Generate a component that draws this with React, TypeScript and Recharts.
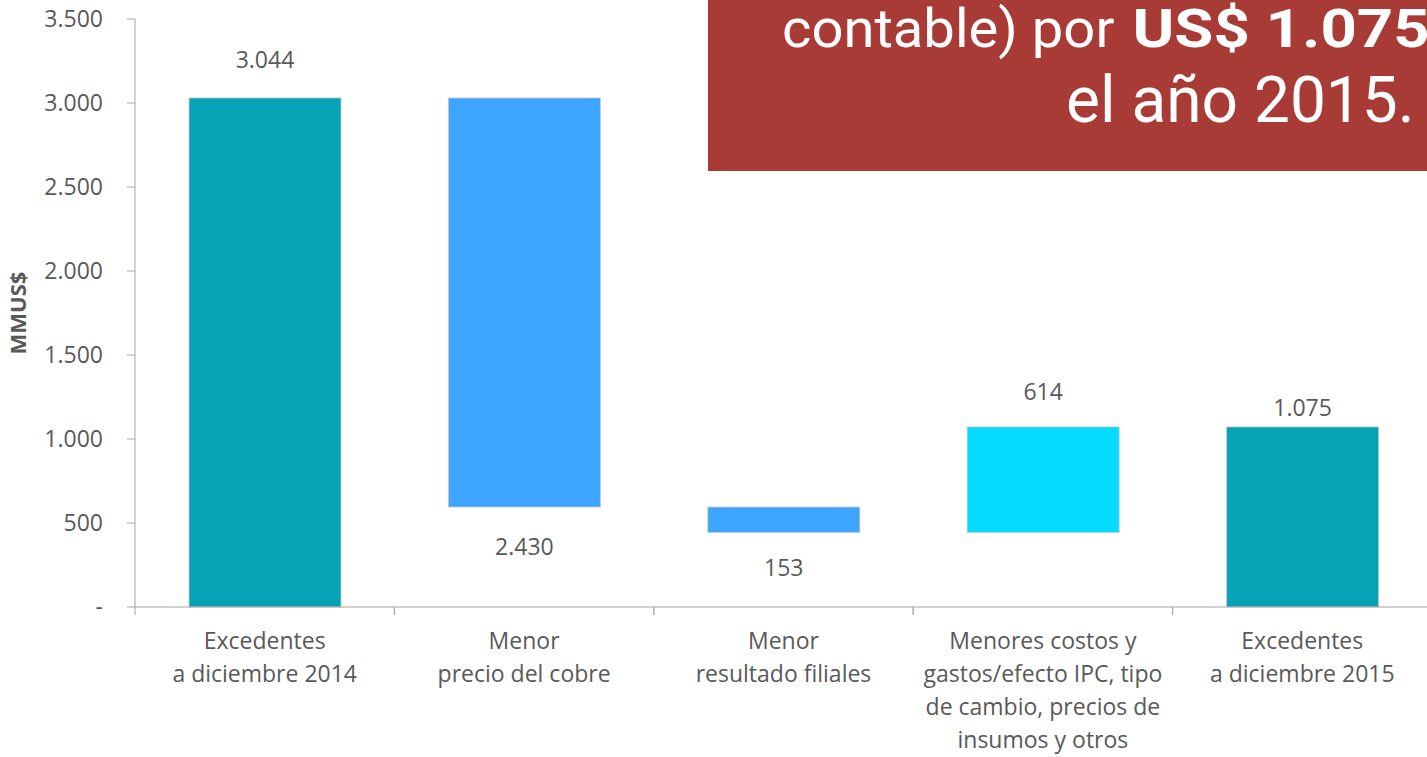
import React from 'react';
import { BarChart, Bar, XAxis, YAxis, Cell, LabelList } from 'recharts';

// categories and waterfall ranges
const categories = [
  'Excedentes\na diciembre 2014',
  'Menor\nprecio del cobre',
  'Menor\nresultado filiales',
  'Menores costos y\ngastos/efecto IPC, tipo\nde cambio, precios de\ninsumos y otros',
  'Excedentes\na diciembre 2015',
];
const barLow = [0, 595, 443, 443, 0];
const barHigh = [3030, 3030, 595, 1072, 1072];
const shownValues = [3044, -2430, -153, 614, 1075];
const barKinds = ['total', 'decrease', 'decrease', 'increase', 'total'];
const yTicks = [0, 500, 1000, 1500, 2000, 2500, 3000, 3500];

const data = categories.map((name, i) => ({
  name,
  range: [barLow[i], barHigh[i]],
  shown: shownValues[i],
  kind: barKinds[i],
}));

const COLORS: Record<string, string> = {
  total: '#05A3B5',
  decrease: '#3DA5FF',
  increase: '#05DAFF',
};

const FONT = '"Open Sans", sans-serif';
const TEXT = '#595959';
const AXIS = '#a6a6a6';
const FS = 23;

const CHART_W = 1432;
const CHART_H = 757;
const LEFT = 135;
const BAND = (CHART_W - LEFT) / categories.length;

// distance between bar edge and its value label
const labelGap = [38, 40, 35, 35, 19];

const fmt = (v: number) =>
  v === 0 ? '-' : Math.abs(v).toString().replace(/\B(?=(\d{3})+(?!\d))/g, '.');

const CategoryTick = (props: any) => {
  const { x, y, payload } = props;
  const lines = String(payload.value).split('\n');
  return (
    <g>
      <line x1={x - BAND / 2} x2={x - BAND / 2} y1={y} y2={y + 8} stroke={AXIS} />
      <line x1={x + BAND / 2} x2={x + BAND / 2} y1={y} y2={y + 8} stroke={AXIS} />
      <text x={x} y={y + 42} textAnchor="middle" fill={TEXT} fontFamily={FONT} fontSize={FS}>
        {lines.map((l, i) => (
          <tspan key={i} x={x} dy={i === 0 ? 0 : 33}>
            {l}
          </tspan>
        ))}
      </text>
    </g>
  );
};

const ValueLabel = (props: any) => {
  const { x, y, width, height, index } = props;
  const v = shownValues[index];
  const below = v < 0;
  const ty = below ? y + height + labelGap[index] : y - labelGap[index];
  return (
    <text
      x={x + width / 2}
      y={ty}
      dy={8}
      textAnchor="middle"
      fill={TEXT}
      fontFamily={FONT}
      fontSize={FS}
    >
      {fmt(v)}
    </text>
  );
};

const AxisTitle = (props: any) => {
  const cy = props.viewBox ? props.viewBox.y + props.viewBox.height / 2 : 313;
  return (
    <text
      x={26}
      y={cy}
      transform={`rotate(-90, 26, ${cy})`}
      textAnchor="middle"
      fill={TEXT}
      fontFamily={FONT}
      fontWeight={700}
      fontSize={22}
    >
      MMUS$
    </text>
  );
};

export default function App() {
  return (
    <div
      style={{
        position: 'absolute',
        left: 0,
        top: 0,
        width: 1427,
        height: 757,
        overflow: 'hidden',
        background: '#fff',
      }}
    >
      <BarChart
        width={CHART_W}
        height={CHART_H}
        data={data}
        margin={{ top: 19, right: 0, bottom: 0, left: 0 }}
        barSize={152}
      >
        <XAxis
          dataKey="name"
          height={150}
          interval={0}
          tickLine={false}
          tickSize={0}
          tickMargin={0}
          axisLine={{ stroke: AXIS }}
          tick={<CategoryTick />}
        />
        <YAxis
          width={LEFT}
          domain={[0, 3500]}
          ticks={yTicks}
          interval={0}
          tickSize={8}
          tickMargin={24}
          tickFormatter={fmt}
          axisLine={{ stroke: AXIS }}
          tickLine={{ stroke: AXIS }}
          tick={{ fill: TEXT, fontFamily: FONT, fontSize: FS }}
          label={<AxisTitle />}
        />
        <Bar
          dataKey="range"
          isAnimationActive={false}
          stroke="#c8c8c8"
          strokeWidth={0.8}
        >
          {data.map((d, i) => (
            <Cell key={i} fill={COLORS[d.kind]} />
          ))}
          <LabelList dataKey="shown" content={<ValueLabel />} />
        </Bar>
      </BarChart>

      <div
        style={{
          position: 'absolute',
          left: 708,
          top: 0,
          width: 760,
          height: 171,
          background: '#A93B36',
          color: '#fff',
          fontFamily: 'Roboto, sans-serif',
          lineHeight: 1,
          whiteSpace: 'nowrap',
        }}
      >
        <div
          style={{
            position: 'absolute',
            left: 74,
            top: 2,
            fontSize: 54,
            transform: 'scaleX(1.04)',
            transformOrigin: 'left top',
          }}
        >
          contable) por{' '}
          <b
            style={{
              display: 'inline-block',
              marginLeft: 4,
              transform: 'scaleX(1.13)',
              transformOrigin: 'left center',
            }}
          >
            US$ 1.075
          </b>
        </div>
        <div style={{ position: 'absolute', left: 358, top: 69, fontSize: 64 }}>
          el año 2015.
        </div>
      </div>
    </div>
  );
}
